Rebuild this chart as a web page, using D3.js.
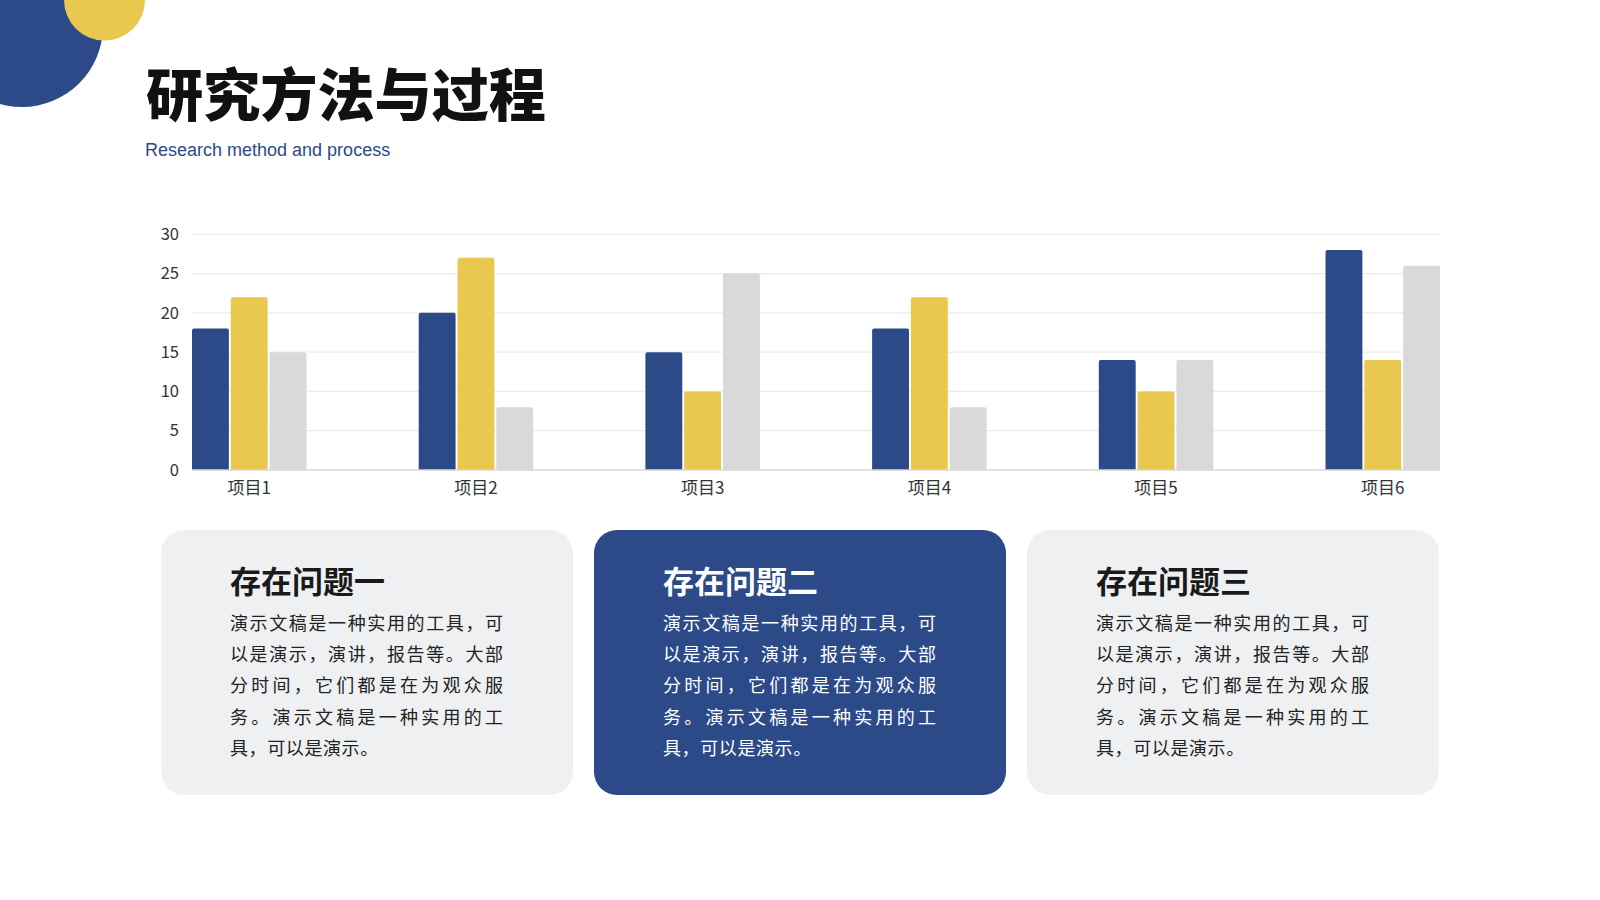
<!DOCTYPE html>
<html><head><meta charset="utf-8">
<script src="https://cdn.jsdelivr.net/npm/d3@7"></script>
<style>
html,body{margin:0;padding:0;background:#fff;}
svg{display:block;}
</style></head>
<body>
<svg id="c" width="1600" height="900"></svg>
<script>
const categories = ["项目1","项目2","项目3","项目4","项目5","项目6"];
const series1 = [18,20,15,18,14,28];
const series2 = [22,27,10,22,10,14];
const series3 = [15,8,25,8,14,26];
const yTicks = [0,5,10,15,20,25,30];
const seriesColors = ["#2B4A87","#E8C84E","#D9D9D9"];
const cardTitles = ["存在问题一","存在问题二","存在问题三"];
const cardLines = ["演示文稿是一种实用的工具，可","以是演示，演讲，报告等。大部","分时间，它们都是在为观众服","务。演示文稿是一种实用的工","具，可以是演示。"];

const svg = d3.select("#c");
const CJK = "'Noto Sans CJK SC','Noto Sans',sans-serif";

// decorative circles
svg.append("circle").attr("cx",22).attr("cy",26).attr("r",81).attr("fill","#2B4A87");
svg.append("circle").attr("cx",104.5).attr("cy",0).attr("r",40.5).attr("fill","#E8C84E");

// titles
svg.append("text").attr("x",146).attr("y",116).text("研究方法与过程")
  .attr("font-family",CJK).attr("font-weight",900).attr("font-size",57).attr("fill","#111")
  .attr("textLength",400).attr("lengthAdjust","spacingAndGlyphs");
svg.append("text").attr("x",145).attr("y",156).text("Research method and process")
  .attr("font-family","'Liberation Sans',Arial,sans-serif").attr("font-size",18).attr("fill","#2B4A87");

// chart
const x0 = d3.scaleBand().domain(categories).range([192,1440]).paddingInner(0.495).paddingOuter(0);
const keys = [0,1,2];
const x1 = d3.scaleBand().domain(keys).range([0,x0.bandwidth()]).paddingInner(0.05);
const y = d3.scaleLinear().domain([0,30]).range([470,234.3]);

const g = svg.append("g");
g.selectAll("line.grid").data(yTicks.filter(d=>d>0)).join("line")
  .attr("x1",192).attr("x2",1440).attr("y1",d=>y(d)).attr("y2",d=>y(d))
  .attr("stroke","#EBEBEB").attr("stroke-width",1.2);

const yAxis = g.append("g").attr("transform","translate(192,0)")
  .call(d3.axisLeft(y).tickValues(yTicks).tickSize(0).tickPadding(13));
yAxis.select(".domain").remove();
yAxis.selectAll("text").attr("font-family",CJK).attr("font-size",16.5).attr("fill","#333");

const data = categories.map((c,i)=>({c, v:[series1[i],series2[i],series3[i]]}));
const groups = g.selectAll("g.grp").data(data).join("g").attr("transform",d=>`translate(${x0(d.c)},0)`);
groups.selectAll("path").data(d=>d.v.map((v,k)=>({v,k}))).join("path")
  .attr("fill",d=>seriesColors[d.k])
  .attr("d",d=>{
    const bx=x1(d.k), bw=x1.bandwidth(), top=y(d.v), bot=y(0), r=2;
    return `M${bx},${bot}V${top+r}Q${bx},${top} ${bx+r},${top}H${bx+bw-r}Q${bx+bw},${top} ${bx+bw},${top+r}V${bot}Z`;
  });

g.append("line").attr("x1",192).attr("x2",1440).attr("y1",y(0)).attr("y2",y(0))
  .attr("stroke","#D9D9D9").attr("stroke-width",1.5);

const xAxis = g.append("g").attr("transform","translate(0,470)")
  .call(d3.axisBottom(x0).tickSize(0).tickPadding(12));
xAxis.select(".domain").remove();
xAxis.selectAll("text").attr("font-family",CJK).attr("font-size",17).attr("fill","#333");

// cards
const cardX = d3.scaleBand().domain(cardTitles).range([161,1439]).paddingInner(20/412.7).paddingOuter(0);
const cards = svg.selectAll("g.card").data(cardTitles).join("g").attr("transform",d=>`translate(${cardX(d)},530)`);
cards.append("rect").attr("width",cardX.bandwidth()).attr("height",265).attr("rx",23)
  .attr("fill",(d,i)=>i===1?"#2B4A87":"#EFF0F2");
cards.append("text").attr("x",69).attr("y",63).text(d=>d)
  .attr("font-family",CJK).attr("font-weight",700).attr("font-size",31)
  .attr("fill",(d,i)=>i===1?"#fff":"#1a1a1a");
cards.each(function(d,i){
  const t = d3.select(this).append("text").attr("font-family",CJK).attr("font-size",18)
    .attr("fill",i===1?"#fff":"#222");
  cardLines.forEach((ln,j)=>{
    const ts = t.append("tspan").attr("x",69).attr("y",99.5+j*31.4).text(ln);
    if(j<cardLines.length-1){ ts.attr("textLength",273).attr("lengthAdjust","spacing"); }
    else { ts.attr("letter-spacing",0.6); }
  });
});
</script>
</body></html>
